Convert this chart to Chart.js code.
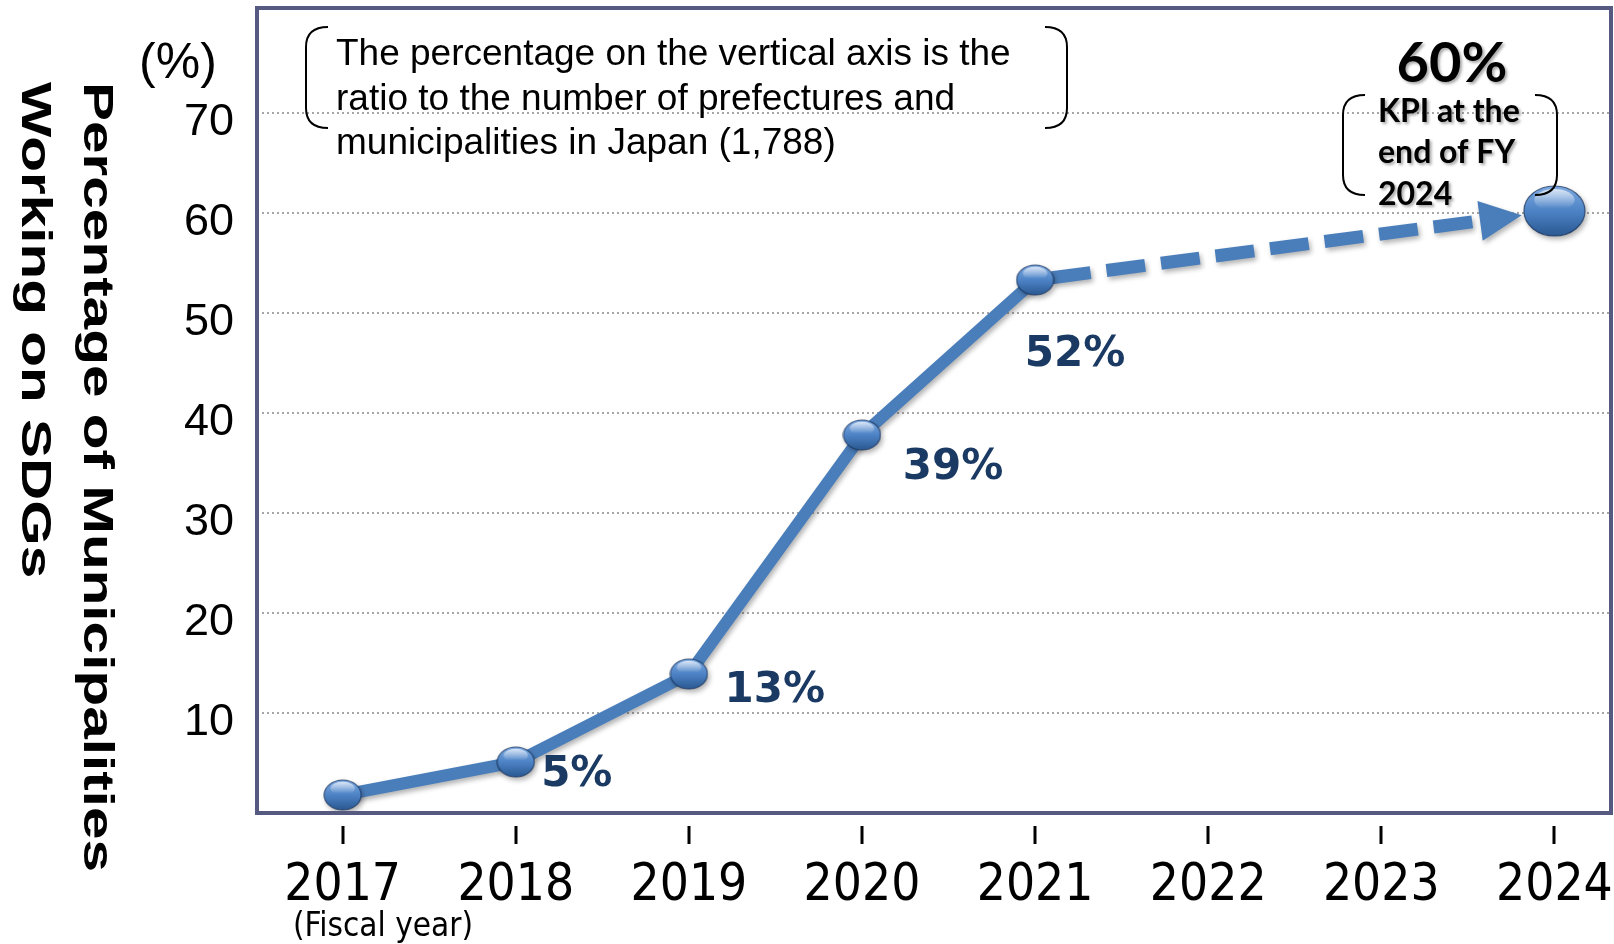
<!DOCTYPE html>
<html>
<head>
<meta charset="utf-8">
<script src="https://cdn.jsdelivr.net/npm/chart.js@4.4.1/dist/chart.umd.min.js"></script>
<style>
    html, body { margin: 0; padding: 0; background: #fff; }
    canvas { display: block; }
</style>
</head>
<body>
<canvas id="sdgChart" width="1614" height="944"></canvas>
<script>
// values
const years = [2017, 2018, 2019, 2020, 2021]
const shares = [1.8, 5.1, 13.9, 37.8, 53.3]
const targetYear = 2024
const targetShare = 60.2
const pointLabels = ['', '5%', '13%', '39%', '52%']
const xTicks = [2017, 2018, 2019, 2020, 2021, 2022, 2023, 2024]
const yTicks = [10, 20, 30, 40, 50, 60, 70]
const yTitle = ['Percentage of Municipalities', 'Working on SDGs']
const axisNote = ['The percentage on the vertical axis is the', 'ratio to the number of prefectures and', 'municipalities in Japan (1,788)']
const targetText = '60%'
const targetNote = ['KPI at the', 'end of FY', '2024']

const blue = '#4a7ebb'
const labelColor = '#1b3a63'
const sans = '"Liberation Sans", Arial, sans-serif'
const narrow = '"Liberation Sans Narrow", "DejaVu Sans Condensed", sans-serif'
const labelOffsets = [[0, 0], [61, 13], [86, 17], [91, 33], [40, 75]]

// glossy ellipse used as point style
function makeMarker(w, h) {
    const c = document.createElement('canvas')
    c.width = w + 2
    c.height = h + 2
    const g = c.getContext('2d')
    const cx = c.width / 2
    const cy = c.height / 2
    const grad = g.createLinearGradient(0, 1, 0, h + 1)
    grad.addColorStop(0, '#7eaae0')
    grad.addColorStop(0.5, '#4d83c6')
    grad.addColorStop(1, '#2a5891')
    g.beginPath()
    g.ellipse(cx, cy, w / 2, h / 2, 0, 0, Math.PI * 2)
    g.fillStyle = grad
    g.fill()
    g.lineWidth = 1.2
    g.strokeStyle = 'rgba(22, 50, 92, 0.75)'
    g.stroke()
    const hl = g.createLinearGradient(0, cy - h * 0.46, 0, cy - h * 0.05)
    hl.addColorStop(0, 'rgba(255,255,255,0.75)')
    hl.addColorStop(1, 'rgba(255,255,255,0)')
    g.beginPath()
    g.ellipse(cx, cy - h * 0.22, w * 0.33, h * 0.22, 0, 0, Math.PI * 2)
    g.fillStyle = hl
    g.fill()
    return c
}

const smallMarker = makeMarker(37, 30)
const bigMarker = makeMarker(61, 50)

function arrowGeometry(chart) {
    const pts = chart.getDatasetMeta(2).data
    const p1 = pts[0]
    const p2 = pts[1]
    const len = Math.hypot(p2.x - p1.x, p2.y - p1.y)
    const ux = (p2.x - p1.x) / len
    const uy = (p2.y - p1.y) / len
    const tipX = p2.x - ux * 33
    const tipY = p2.y - uy * 33
    return { ux, uy, tipX, tipY, baseX: tipX - ux * 42, baseY: tipY - uy * 42 }
}

function bracket(ctx, x, top, bottom, dir) {
    const hook = 22
    ctx.beginPath()
    ctx.moveTo(x + hook * dir, top)
    ctx.quadraticCurveTo(x, top, x, top + 20)
    ctx.lineTo(x, bottom - 20)
    ctx.quadraticCurveTo(x, bottom, x + hook * dir, bottom)
    ctx.stroke()
}

const decor = {
    id: 'decor',
    beforeDatasetDraw(chart, args) {
        const ctx = chart.ctx
        ctx.save()
        ctx.shadowColor = 'rgba(0, 0, 0, 0.3)'
        ctx.shadowBlur = 5
        ctx.shadowOffsetX = 2
        ctx.shadowOffsetY = 3
        if (args.index === 2) {
            const a = arrowGeometry(chart)
            const area = chart.chartArea
            ctx.beginPath()
            ctx.rect(area.left, area.top, a.baseX + 1 - area.left, area.bottom - area.top)
            ctx.clip()
        }
    },
    afterDatasetDraw(chart, args) {
        const ctx = chart.ctx
        ctx.restore()
        if (args.index === 2) {
            const a = arrowGeometry(chart)
            ctx.save()
            ctx.shadowColor = 'rgba(0, 0, 0, 0.3)'
            ctx.shadowBlur = 5
            ctx.shadowOffsetX = 2
            ctx.shadowOffsetY = 3
            ctx.fillStyle = blue
            ctx.beginPath()
            ctx.moveTo(a.tipX, a.tipY)
            ctx.lineTo(a.baseX - a.uy * 20, a.baseY + a.ux * 20)
            ctx.lineTo(a.baseX + a.uy * 20, a.baseY - a.ux * 20)
            ctx.closePath()
            ctx.fill()
            ctx.restore()
        }
    },
    afterDraw(chart) {
        const ctx = chart.ctx
        const area = chart.chartArea
        const xs = chart.scales.x
        ctx.save()

        // frame round the plot
        ctx.strokeStyle = '#575a80'
        ctx.lineWidth = 4
        ctx.strokeRect(area.left, area.top, area.right - area.left, area.bottom - area.top)

        // tick marks under the frame
        ctx.fillStyle = '#000'
        xTicks.forEach(t => {
            const x = Math.round(xs.getPixelForValue(t))
            ctx.fillRect(x - 1.5, area.bottom + 13, 3, 18)
        })

        // vertical title, reads top to bottom
        ctx.font = 'bold 43px ' + sans
        ctx.textAlign = 'left'
        ctx.textBaseline = 'alphabetic'
        const sx = 790 / ctx.measureText(yTitle[0]).width
        const baseX = [84, 22]
        yTitle.forEach((line, i) => {
            ctx.save()
            ctx.translate(baseX[i], 82)
            ctx.rotate(Math.PI / 2)
            ctx.scale(sx, 1)
            ctx.fillText(line, 0, 0)
            ctx.restore()
        })

        ctx.font = '50px ' + sans
        ctx.textAlign = 'center'
        ctx.textBaseline = 'middle'
        ctx.fillText('(%)', 178, 64)

        ctx.font = '33px ' + narrow
        ctx.fillText('(Fiscal year)', 383, 927)

        // note on the vertical axis
        ctx.font = '37px ' + sans
        ctx.textAlign = 'left'
        ctx.textBaseline = 'alphabetic'
        const noteY = [65, 110, 154]
        axisNote.forEach((line, i) => ctx.fillText(line, 336, noteY[i]))
        ctx.strokeStyle = '#000'
        ctx.lineWidth = 2
        bracket(ctx, 306, 27, 128, 1)
        bracket(ctx, 1067, 27, 128, -1)

        // target note
        bracket(ctx, 1343, 95, 195, 1)
        bracket(ctx, 1557, 95, 195, -1)
        ctx.shadowColor = 'rgba(0, 0, 0, 0.35)'
        ctx.shadowBlur = 3
        ctx.shadowOffsetX = 2
        ctx.shadowOffsetY = 2
        ctx.font = 'bold 56px Lato, sans-serif'
        ctx.textAlign = 'center'
        ctx.fillText(targetText, 1452, 82)
        ctx.font = 'bold 32px Lato, sans-serif'
        ctx.textAlign = 'left'
        const kpiY = [122, 163, 205]
        targetNote.forEach((line, i) => ctx.fillText(line, 1378, kpiY[i]))
        ctx.shadowColor = 'transparent'

        // value labels
        const meta = chart.getDatasetMeta(0)
        ctx.font = 'bold 42px "DejaVu Sans", Verdana, sans-serif'
        ctx.fillStyle = labelColor
        ctx.textAlign = 'center'
        ctx.textBaseline = 'middle'
        pointLabels.forEach((txt, i) => {
            if (!txt) return
            const p = meta.data[i]
            ctx.fillText(txt, p.x + labelOffsets[i][0], p.y + labelOffsets[i][1])
        })
        ctx.restore()
    }
}

const ctx = document.getElementById('sdgChart').getContext('2d')

new Chart(ctx, {
    type: 'line',
    data: {
        datasets: [{
            data: years.map((y, i) => ({ x: y, y: shares[i] })),
            borderColor: blue,
            borderWidth: 12,
            pointStyle: smallMarker,
            pointRadius: 16,
            tension: 0,
            order: 0
        }, {
            data: [{ x: targetYear, y: targetShare }],
            showLine: false,
            pointStyle: bigMarker,
            pointRadius: 30,
            order: 1
        }, {
            data: [{ x: years[years.length - 1], y: shares[shares.length - 1] }, { x: targetYear, y: targetShare }],
            borderColor: blue,
            borderWidth: 13,
            borderDash: [39, 16],
            borderDashOffset: -17,
            pointRadius: 0,
            order: 2
        }]
    },
    options: {
        responsive: false,
        animation: false,
        layout: {
            autoPadding: false,
            padding: { top: 8, right: 3, bottom: 0, left: 0 }
        },
        scales: {
            x: {
                type: 'linear',
                min: 2016.505,
                max: 2024.327,
                afterBuildTicks: s => { s.ticks = xTicks.map(v => ({ value: v })) },
                afterFit: s => {
                    s.height = 131
                    s.paddingLeft = 0
                    s.paddingRight = 0
                },
                ticks: {
                    callback: v => String(v),
                    color: '#000',
                    font: { family: narrow, size: 51 },
                    padding: 43,
                    maxRotation: 0,
                    autoSkip: false
                },
                grid: { display: false, drawTicks: false },
                border: { display: false }
            },
            y: {
                min: 0,
                max: 80.5,
                afterBuildTicks: s => { s.ticks = yTicks.map(v => ({ value: v })) },
                afterFit: s => {
                    s.width = 257
                    s.paddingTop = 0
                    s.paddingBottom = 0
                },
                ticks: {
                    color: '#000',
                    font: { family: sans, size: 45 },
                    padding: 23,
                    labelOffset: 10
                },
                grid: {
                    color: '#a6a6a6',
                    lineWidth: 2,
                    drawTicks: false
                },
                border: { display: false, dash: [2, 3] }
            }
        },
        plugins: {
            legend: { display: false },
            tooltip: { enabled: false }
        }
    },
    plugins: [decor]
})
</script>
</body>
</html>
